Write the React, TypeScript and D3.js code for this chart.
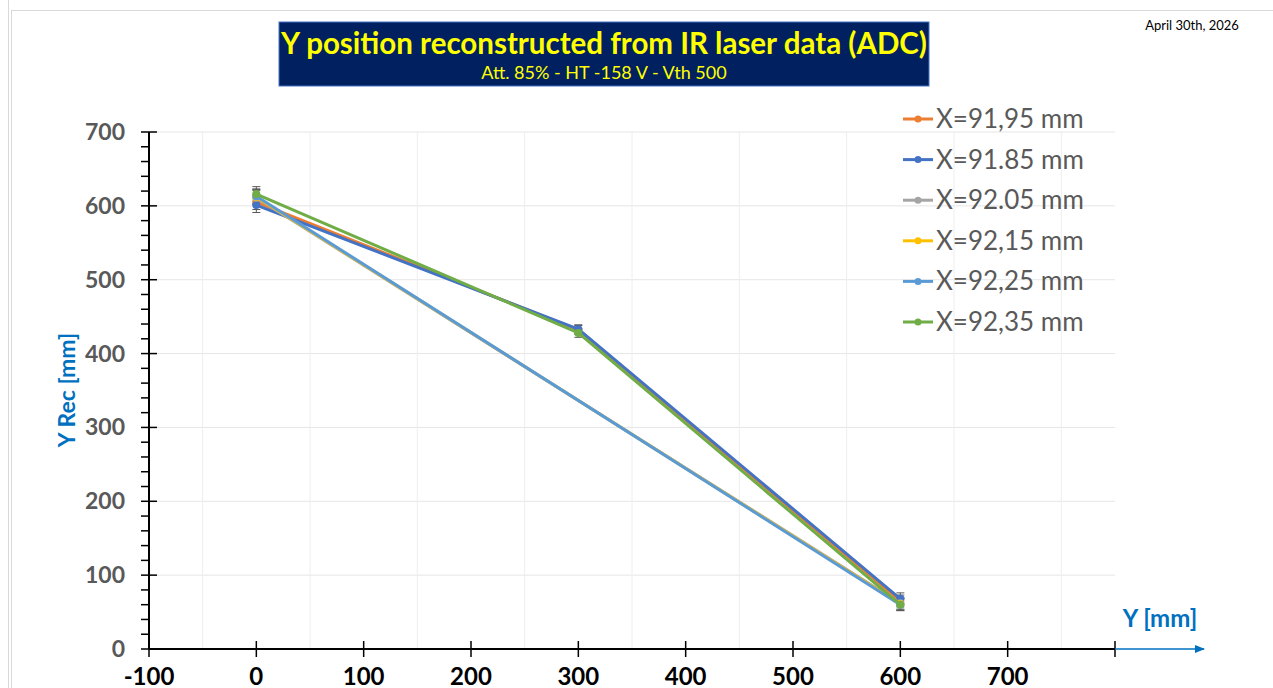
import React from "react";
import * as d3 from "d3";

const xValues = [0, 300, 600];
const seriesNames = ["X=91,95 mm", "X=91.85 mm", "X=92.05 mm", "X=92,15 mm", "X=92,25 mm", "X=92,35 mm"];
const seriesColors = ["#ED7D31", "#4472C4", "#A5A5A5", "#FFC000", "#5B9BD5", "#70AD47"];
const s9195 = [605, 432, 65];
const s9185 = [601, 433, 68];
const s9205 = [611, null, 62];
const s9215 = [612, null, 61];
const s9225 = [613, null, 60];
const s9235 = [616, 428, 60];
const seriesValues: (number | null)[][] = [s9195, s9185, s9205, s9215, s9225, s9235];
const errorBars = [10, 6, 8];
const xTicks = [-100, 0, 100, 200, 300, 400, 500, 600, 700];
const yTicks = [0, 100, 200, 300, 400, 500, 600, 700];

export default function App() {
  const W = 1273, H = 688;
  const x = d3.scaleLinear().domain([-100, 800]).range([149, 1115]);
  const y = d3.scaleLinear().domain([0, 700]).range([649, 132]);
  const line = d3.line<[number, number]>().x((d) => x(d[0])).y((d) => y(d[1]));
  const pts = (vals: (number | null)[]) =>
    vals.map((v, i) => [xValues[i], v] as [number, number | null]).filter((p) => p[1] !== null) as [number, number][];
  const minorY = d3.range(0, 701, 20);
  const gridX = d3.range(-50, 800, 100);
  const font = "Lato, 'Open Sans', sans-serif";

  return (
    <svg width={W} height={H} style={{ position: "absolute", left: 0, top: 0, background: "#fff" }} fontFamily={font}>
      <defs>
        <marker id="arr" viewBox="0 0 10 10" refX="9" refY="5" markerWidth="7" markerHeight="7" orient="auto">
          <path d="M0,1 L10,5 L0,9 z" fill="#0070C0" />
        </marker>
      </defs>
      <line x1={8.5} x2={8.5} y1={0} y2={H} stroke="#d9d9d9" />
      <rect x={11.5} y={10.5} width={W} height={H} fill="none" stroke="#d9d9d9" />
      {yTicks.filter((t) => t > 0).map((t) => (
        <line key={"gy" + t} x1={x(-100)} x2={x(800)} y1={y(t)} y2={y(t)} stroke="#e6e6e6" />
      ))}
      {gridX.map((t) => (
        <line key={"gx" + t} x1={x(t)} x2={x(t)} y1={y(0)} y2={y(700)} stroke="#eeeeee" />
      ))}
      <rect x={279} y={22} width={650} height={64} fill="#002060" stroke="#4472C4" strokeWidth={1} />
      <text x={604} y={54} textAnchor="middle" fill="#FFFF00" fontWeight="bold" fontSize={29.5}>
        Y position reconstructed from IR laser data (ADC)
      </text>
      <text x={604} y={79} textAnchor="middle" fill="#FFFF00" fontSize={18}>
        Att. 85% - HT -158 V - Vth 500
      </text>
      <text x={1192} y={30} textAnchor="middle" fill="#000" fontSize={13}>April 30th, 2026</text>
      <line x1={x(-100)} x2={x(-100)} y1={y(0)} y2={y(700)} stroke="#000" strokeWidth={2} />
      {minorY.map((t) => (
        <line key={"my" + t} x1={x(-100) - 8} x2={t % 100 === 0 ? x(-100) + 8 : x(-100)}
          y1={y(t)} y2={y(t)} stroke="#000" strokeWidth={1.5} />
      ))}
      {yTicks.map((t) => (
        <text key={"yl" + t} x={125} y={y(t) + 8} textAnchor="end" fill="#595959" fontWeight="bold" fontSize={23}>{t}</text>
      ))}
      <line x1={x(-100)} x2={x(800)} y1={y(0)} y2={y(0)} stroke="#000" strokeWidth={2} />
      {[...xTicks, 800].map((t) => (
        <line key={"xt" + t} x1={x(t)} x2={x(t)} y1={y(0) - 8} y2={y(0) + 8} stroke="#000" strokeWidth={1.5} />
      ))}
      {xTicks.map((t) => (
        <text key={"xl" + t} x={x(t)} y={685} textAnchor="middle" fill="#000" fontWeight="bold" fontSize={24}>{t}</text>
      ))}
      <line x1={x(800)} x2={1204} y1={y(0)} y2={y(0)} stroke="#0070C0" strokeWidth={1.5} markerEnd="url(#arr)" />
      <text x={1160} y={627} textAnchor="middle" fill="#0070C0" fontWeight="bold" fontSize={24}>Y [mm]</text>
      <text transform={`translate(75,390) rotate(-90)`} textAnchor="middle" fill="#0070C0" fontWeight="bold" fontSize={23}>Y Rec [mm]</text>
      {seriesValues.map((vals, si) => (
        <g key={"e" + si}>
          {pts(vals).map(([xv, v]) => {
            const e = errorBars[xValues.indexOf(xv)];
            return (
              <g key={xv} stroke="#595959" strokeWidth={1}>
                <line x1={x(xv)} x2={x(xv)} y1={y(v - e)} y2={y(v + e)} />
                <line x1={x(xv) - 4} x2={x(xv) + 4} y1={y(v - e)} y2={y(v - e)} />
                <line x1={x(xv) - 4} x2={x(xv) + 4} y1={y(v + e)} y2={y(v + e)} />
              </g>
            );
          })}
        </g>
      ))}
      {seriesValues.map((vals, si) => (
        <g key={"s" + si}>
          <path d={line(pts(vals)) || ""} fill="none" stroke={seriesColors[si]} strokeWidth={3} strokeLinejoin="round" />
          {pts(vals).map(([xv, v]) => (
            <circle key={xv} cx={x(xv)} cy={y(v)} r={4} fill={seriesColors[si]} />
          ))}
        </g>
      ))}
      {seriesNames.map((n, i) => {
        const ly = 119 + i * 40.6;
        return (
          <g key={"lg" + i}>
            <line x1={903} x2={933} y1={ly} y2={ly} stroke={seriesColors[i]} strokeWidth={3} />
            <circle cx={918} cy={ly} r={3.5} fill={seriesColors[i]} />
            <text x={936} y={ly + 9} fill="#595959" fontSize={26}>{n}</text>
          </g>
        );
      })}
    </svg>
  );
}
